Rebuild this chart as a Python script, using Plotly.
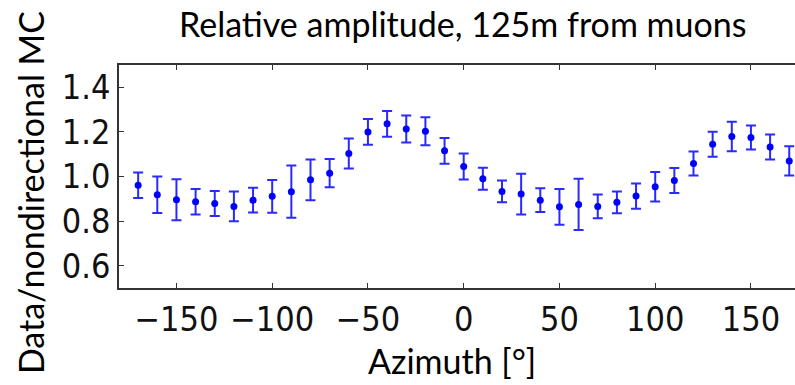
import plotly.graph_objects as go

azimuth = [-170, -160, -150, -140, -130, -120, -110, -100, -90, -80, -70, -60,
           -50, -40, -30, -20, -10, 0, 10, 20, 30, 40, 50, 60, 70, 80, 90, 100,
           110, 120, 130, 140, 150, 160, 170]
ratio = [0.961, 0.918, 0.896, 0.887, 0.879, 0.866, 0.894, 0.911, 0.932, 0.985, 1.015, 1.103,
         1.200, 1.236, 1.213, 1.203, 1.115, 1.045, 0.990, 0.933, 0.921, 0.894, 0.864, 0.875,
         0.866, 0.884, 0.912, 0.954, 0.982, 1.058, 1.145, 1.179, 1.175, 1.132, 1.070]
error = [0.057, 0.082, 0.092, 0.057, 0.056, 0.067, 0.055, 0.073, 0.117, 0.091, 0.063, 0.067,
         0.058, 0.058, 0.060, 0.063, 0.058, 0.058, 0.049, 0.049, 0.091, 0.053, 0.080, 0.115,
         0.053, 0.049, 0.057, 0.066, 0.056, 0.054, 0.056, 0.066, 0.054, 0.056, 0.066]

x_ticks = [-150, -100, -50, 0, 50, 100, 150]
y_ticks = [0.6, 0.8, 1.0, 1.2, 1.4]
y_tick_text = ["0.6", "0.8", "1.0", "1.2", "1.4"]

title_text = "Relative amplitude, 125m from muons"
x_title = "Azimuth [°]"
y_title = "Data/nondirectional MC"

fig = go.Figure()
fig.add_trace(go.Scatter(
    x=azimuth, y=ratio, mode="markers",
    marker=dict(color="#0000ff", size=7),
    error_y=dict(type="data", array=error, visible=True, color="#2a2aff",
                 thickness=2, width=5),
    cliponaxis=True, showlegend=False,
))

tick_font = dict(family="Liberation Sans Narrow, DejaVu Sans Condensed, DejaVu Sans",
                 size=34, color="#111111")
label_font = dict(family="Lato, Open Sans, sans-serif", size=34, color="#000000")

fig.update_layout(
    width=795, height=385,
    margin=dict(l=119, r=0, t=65, b=97),
    paper_bgcolor="white", plot_bgcolor="white",
    xaxis=dict(range=[-180, 173], tickvals=x_ticks, ticks="inside", ticklen=5,
               tickwidth=1.2, tickcolor="#333", showline=True, linecolor="#333",
               linewidth=1.5, mirror="ticks", showgrid=False, zeroline=False,
               tickfont=tick_font),
    yaxis=dict(range=[0.5, 1.5], tickvals=y_ticks, ticktext=y_tick_text,
               ticks="inside", ticklen=5, tickwidth=1.2, tickcolor="#333",
               showline=True, linecolor="#333", linewidth=1.5, mirror=False,
               showgrid=False, zeroline=False, tickfont=tick_font),
    annotations=[
        dict(text=title_text, xref="paper", yref="paper", x=0.508, y=1.185,
             xanchor="center", yanchor="middle", showarrow=False, font=label_font),
        dict(text=x_title, xref="paper", yref="paper", x=0.4926, y=-0.325,
             xanchor="center", yanchor="middle", showarrow=False, font=label_font),
        dict(text=y_title, xref="paper", yref="paper", x=-0.1317, y=0.43,
             xanchor="center", yanchor="middle", showarrow=False, textangle=-90,
             font=label_font),
    ],
)

fig.write_html("out.html")
